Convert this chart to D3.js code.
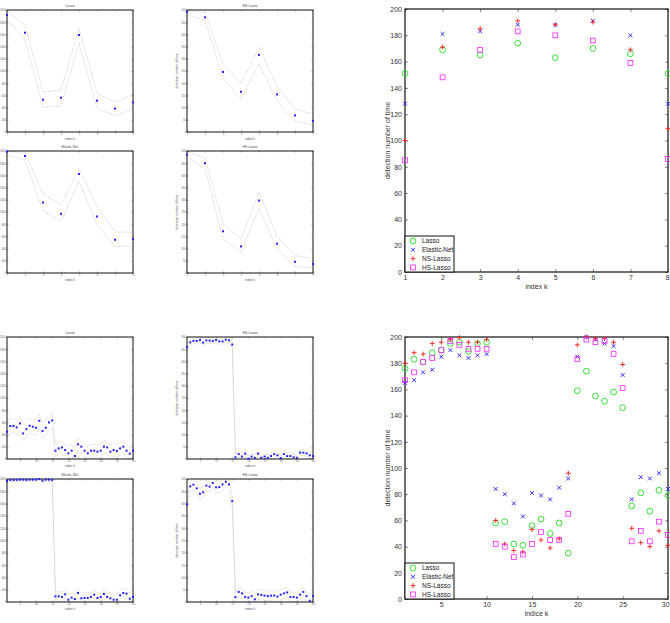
<!DOCTYPE html>
<html><head><meta charset="utf-8">
<script src="https://cdn.jsdelivr.net/npm/d3@7/dist/d3.min.js"></script>
<style>
html,body{margin:0;padding:0;background:#fff;}
svg{display:block;font-family:"Liberation Sans",Arial,sans-serif;}
</style></head>
<body>
<svg id="chart" width="670" height="623"></svg>
<script>
// ---------------- DATA ----------------
const k8 = [1,2,3,4,5,6,7,8];
const k40 = [1,2,3,4,5,6,7,8,9,10,11,12,13,14,15,16,17,18,19,20,21,22,23,24,25,26,27,28,29,30,31,32,33,34,35,36,37,38,39,40];
const k30 = [1,2,3,4,5,6,7,8,9,10,11,12,13,14,15,16,17,18,19,20,21,22,23,24,25,26,27,28,29,30];

const yTicks2000 = [0,200,400,600,800,1000,1200,1400,1600,1800,2000];
const yTicks500 = [0,50,100,150,200,250,300,350,400,450,500];
const xTicks8 = [1,2,3,4,5,6,7,8];
const xTicks40 = [5,10,15,20,25,30,35,40];
const yTicksBig = [0,20,40,60,80,100,120,140,160,180,200];
const xTicksBig8 = [1,2,3,4,5,6,7,8];
const xTicksBig30 = [5,10,15,20,25,30];

// small panels, group 1 (8 indices)
const lasso8 = [1918,1628,530,563,1590,514,383,486];
const lasso8Up = [1989,1754,656,689,1699,634,486,617];
const lasso8Lo = [1836,1519,404,426,1454,388,268,372];
const ns8 = [493,470,246,165,316,154,68,46];
const ns8Up = [500,489,281,199,346,189,94,74];
const ns8Lo = [479,459,220,135,281,128,44,30];
const enet8 = [1989,1918,1155,970,1624,926,545,556];
const enet8Up = [2000,1962,1297,1117,1717,1090,670,670];
const enet8Lo = [1935,1853,1019,845,1499,790,436,436];
const hs8 = [485,450,171,109,297,120,46,37];
const hs8Up = [500,470,202,140,331,150,71,61];
const hs8Lo = [474,429,140,84,266,98,27,20];

// small panels, group 2 (40 indices)
const lasso40 = [447,540,540,518,583,420,490,545,529,512,627,458,512,600,632,136,174,190,147,93,136,49,240,202,136,93,136,136,120,136,202,190,120,147,131,174,202,136,87,136];
const lasso40Up = [560,660,650,640,700,560,610,660,640,640,740,600,640,720,760,230,270,290,250,200,240,170,330,300,240,200,240,240,230,240,300,290,230,250,240,270,300,240,190,240];
const lasso40Lo = [340,430,430,400,460,300,370,420,410,390,510,340,390,480,510,30,70,90,40,5,30,5,140,100,30,5,30,30,20,30,100,90,20,40,30,70,100,30,5,30];
const ns40 = [459,478,484,484,488,477,486,485,484,488,482,482,489,486,469,7,20,10,22,1,10,5,22,5,10,5,12,20,15,4,20,12,12,7,5,26,26,23,15,12];
const ns40Up = [472,490,496,496,500,490,498,497,496,500,494,494,500,498,482,19,32,22,34,13,22,17,34,17,22,17,24,32,27,16,32,24,24,19,17,38,38,35,27,24];
const ns40Lo = [446,466,472,472,476,465,474,473,472,476,470,470,477,474,456,1,8,1,10,1,1,1,10,1,1,1,1,8,3,1,8,1,1,1,1,14,14,11,3,1];
const enet40 = [1967,1984,1984,1984,1989,1989,1984,1989,1989,1989,2000,1973,1989,1989,1984,92,92,82,125,38,71,49,147,60,65,65,82,120,65,82,130,82,60,38,38,109,147,136,54,82];
const enet40Up = [1995,2000,2000,2000,2000,2000,2000,2000,2000,2000,2000,1998,2000,2000,2000,170,170,160,200,120,150,130,225,140,145,145,160,200,145,160,210,160,140,120,120,190,225,215,135,160];
const enet40Lo = [1940,1960,1960,1960,1965,1965,1960,1965,1965,1965,1975,1948,1965,1965,1960,15,15,5,50,5,5,5,70,5,5,5,5,45,5,5,55,5,5,5,5,30,70,60,5,5];
const hs40 = [397,470,477,462,440,446,473,469,484,466,467,478,489,478,410,20,41,35,20,18,24,11,31,29,26,24,26,26,22,30,35,39,20,20,18,30,41,24,5,24];
const hs40Up = [420,492,499,484,462,468,495,491,500,488,489,500,500,500,432,40,61,55,40,38,44,31,51,49,46,44,46,46,42,50,55,59,40,40,38,50,61,44,25,44];
const hs40Lo = [375,448,455,440,418,424,451,447,462,444,445,456,467,456,388,2,21,15,2,1,4,1,11,9,6,4,6,6,2,10,15,19,2,2,1,10,21,4,1,4];

// big panel 1 (8 indices)
const bigLasso8 = [151,169,165,174,163,170,166,151];
const bigEnet8 = [128,181,183,188,188,191,180,128];
const bigNs8 = [100,171,185,191,188,190,169,109];
const bigHs8 = [85,148,169,183,180,176,159,86];

// big panel 2 (30 indices)
const bigLasso30 = [176,183,181,188,190,195,196,189,195,196,58,59,42,41,56,61,50,58,35,159,174,155,151,158,146,71,81,67,83,79];
const bigEnet30 = [165,167,173,175,185,190,186,184,186,187,84,80,73,63,81,79,76,85,92,185,200,198,195,193,171,76,93,92,96,84];
const bigNs30 = [180,188,187,195,196,198,199.5,196,196,198,60,42,37,36,53,45,39,46,96,194,200,199,199,196,179,54,43,40,52,41];
const bigHs30 = [167,173,181,184,190,197,194,191,191,191,42,40,32,34,42,51,45,45,65,183,198,196,197,187,161,44,52,44,59,49];

const legendNames = ["Lasso","Elastic-Net","NS-Lasso","HS-Lasso"];
const colors = {Lasso:"#22dd22","Elastic-Net":"#1a1aff","NS-Lasso":"#ff1a1a","HS-Lasso":"#ff22ff"};

// ---------------- DRAW ----------------
const svg = d3.select("#chart");

function smallPanel(cfg){
  const {x0,y0,w,h,title,ks,xDom,yDom,xt,yt,vals,up,lo,ylab} = cfg;
  const g = svg.append("g");
  const x = d3.scaleLinear().domain(xDom).range([x0,x0+w]);
  const y = d3.scaleLinear().domain(yDom).range([y0+h,y0]);
  const clipId = "c"+Math.round(x0)+"_"+Math.round(y0);
  g.append("clipPath").attr("id",clipId).append("rect").attr("x",x0).attr("y",y0).attr("width",w).attr("height",h);
  const ax = g.append("g").attr("transform",`translate(0,${y0+h})`)
    .call(d3.axisBottom(x).tickValues(xt).tickSize(-1.6).tickPadding(1.5).tickFormat(d3.format("d")));
  const ay = g.append("g").attr("transform",`translate(${x0},0)`)
    .call(d3.axisLeft(y).tickValues(yt).tickSize(-1.6).tickPadding(0.8).tickFormat(d3.format("d")));
  const at = g.append("g").attr("transform",`translate(0,${y0})`)
    .call(d3.axisTop(x).tickValues(xt).tickSize(-1.6).tickFormat(""));
  const ar = g.append("g").attr("transform",`translate(${x0+w},0)`)
    .call(d3.axisRight(y).tickValues(yt).tickSize(-1.6).tickFormat(""));
  [ax,ay,at,ar].forEach(a=>{
    a.select(".domain").remove();
    a.selectAll("line").attr("stroke","#555").attr("stroke-width",0.4);
    a.selectAll("text").attr("font-size",2.8).attr("fill","#666").attr("font-family","Liberation Sans, Arial, sans-serif");
  });
  const line = d3.line().x((d,i)=>x(ks[i])).y(d=>y(d));
  [up,lo].forEach(arr=>{
    g.append("path").attr("d",line(arr)).attr("fill","none").attr("stroke","#aaa")
      .attr("stroke-width",0.5).attr("stroke-dasharray","1,0.8").attr("clip-path",`url(#${clipId})`);
  });
  g.append("rect").attr("x",x0).attr("y",y0).attr("width",w).attr("height",h)
    .attr("fill","none").attr("stroke","#111").attr("stroke-width",1);
  g.selectAll("rect.pt").data(vals).join("rect").attr("class","pt")
    .attr("x",(d,i)=>x(ks[i])-1).attr("y",d=>y(d)-1).attr("width",2).attr("height",2)
    .attr("fill","#2222ff");
  g.append("text").attr("x",x0+w/2).attr("y",y0-3).attr("text-anchor","middle")
    .attr("font-size",3.4).attr("fill","#444").text(title);
  g.append("text").attr("x",x0+w/2).attr("y",y0+h+8).attr("text-anchor","middle")
    .attr("font-size",3.2).attr("fill","#555").text("index k");
  if(ylab){
    g.append("text").attr("transform",`translate(${x0-9},${y0+h/2}) rotate(-90)`).attr("text-anchor","middle")
      .attr("font-size",3.2).attr("fill","#555").text("detection number of time");
  }
}

// group 1
smallPanel({x0:7,y0:10,w:126,h:122,title:"Lasso",ks:k8,xDom:[1,8],yDom:[0,2000],xt:xTicks8,yt:yTicks2000,vals:lasso8,up:lasso8Up,lo:lasso8Lo,ylab:false});
smallPanel({x0:187,y0:10,w:126,h:122,title:"NS-Lasso",ks:k8,xDom:[1,8],yDom:[0,500],xt:xTicks8,yt:yTicks500,vals:ns8,up:ns8Up,lo:ns8Lo,ylab:true});
smallPanel({x0:7,y0:151,w:126,h:122,title:"Elastic-Net",ks:k8,xDom:[1,8],yDom:[0,2000],xt:xTicks8,yt:yTicks2000,vals:enet8,up:enet8Up,lo:enet8Lo,ylab:false});
smallPanel({x0:187,y0:151,w:126,h:122,title:"HS-Lasso",ks:k8,xDom:[1,8],yDom:[0,500],xt:xTicks8,yt:yTicks500,vals:hs8,up:hs8Up,lo:hs8Lo,ylab:true});
// group 2
smallPanel({x0:7,y0:337,w:126,h:122,title:"Lasso",ks:k40,xDom:[1,40],yDom:[0,2000],xt:xTicks40,yt:yTicks2000,vals:lasso40,up:lasso40Up,lo:lasso40Lo,ylab:false});
smallPanel({x0:187,y0:337,w:126,h:122,title:"NS-Lasso",ks:k40,xDom:[1,40],yDom:[0,500],xt:xTicks40,yt:yTicks500,vals:ns40,up:ns40Up,lo:ns40Lo,ylab:true});
smallPanel({x0:7,y0:479,w:126,h:123,title:"Elastic-Net",ks:k40,xDom:[1,40],yDom:[0,2000],xt:xTicks40,yt:yTicks2000,vals:enet40,up:enet40Up,lo:enet40Lo,ylab:false});
smallPanel({x0:187,y0:479,w:126,h:123,title:"HS-Lasso",ks:k40,xDom:[1,40],yDom:[0,500],xt:xTicks40,yt:yTicks500,vals:hs40,up:hs40Up,lo:hs40Lo,ylab:true});

function marker(g,name,cx,cy){
  const c = colors[name];
  if(name==="Lasso"){
    g.append("circle").attr("cx",cx).attr("cy",cy).attr("r",2.9).attr("fill","none").attr("stroke",c).attr("stroke-width",0.9);
  } else if(name==="Elastic-Net"){
    const s=1.9;
    g.append("path").attr("d",`M${cx-s},${cy-s}L${cx+s},${cy+s}M${cx-s},${cy+s}L${cx+s},${cy-s}`).attr("stroke",c).attr("stroke-width",0.9).attr("fill","none");
  } else if(name==="NS-Lasso"){
    const s=2.4;
    g.append("path").attr("d",`M${cx-s},${cy}L${cx+s},${cy}M${cx},${cy-s}L${cx},${cy+s}`).attr("stroke",c).attr("stroke-width",0.9).attr("fill","none");
  } else {
    g.append("rect").attr("x",cx-2.4).attr("y",cy-2.4).attr("width",4.8).attr("height",4.8).attr("fill","none").attr("stroke",c).attr("stroke-width",0.8);
  }
}

function bigPanel(cfg){
  const {x0,y0,w,h,ks,xDom,xt,series,xlab,legendY} = cfg;
  const g = svg.append("g");
  const x = d3.scaleLinear().domain(xDom).range([x0,x0+w]);
  const y = d3.scaleLinear().domain([0,200]).range([y0+h,y0]);
  const ax = g.append("g").attr("transform",`translate(0,${y0+h})`)
    .call(d3.axisBottom(x).tickValues(xt).tickSize(-3).tickPadding(3).tickFormat(d3.format("d")));
  const ay = g.append("g").attr("transform",`translate(${x0},0)`)
    .call(d3.axisLeft(y).tickValues(yTicksBig).tickSize(-3).tickPadding(3).tickFormat(d3.format("d")));
  const at = g.append("g").attr("transform",`translate(0,${y0})`)
    .call(d3.axisTop(x).tickValues(xt).tickSize(-3).tickFormat(""));
  const ar = g.append("g").attr("transform",`translate(${x0+w},0)`)
    .call(d3.axisRight(y).tickValues(yTicksBig).tickSize(-3).tickFormat(""));
  [ax,ay,at,ar].forEach(a=>{
    a.select(".domain").remove();
    a.selectAll("line").attr("stroke","#333").attr("stroke-width",0.6);
    a.selectAll("text").attr("font-size",7).attr("fill","#333").attr("font-family","Liberation Sans, Arial, sans-serif");
  });
  // keep x tick labels inside the canvas
  ax.selectAll("text").each(function(){
    const b = this.getBBox();
    const ctm = this.getCTM();
    const right = ctm.e + b.x + b.width;
    if(right > 670){ d3.select(this).attr("dx", (670 - right - 0.3)); }
  });
  g.append("rect").attr("x",x0).attr("y",y0).attr("width",w).attr("height",h)
    .attr("fill","none").attr("stroke","#111").attr("stroke-width",1.2);
  g.append("text").attr("x",x0+w/2).attr("y",y0+h+17).attr("text-anchor","middle")
    .attr("font-size",7).attr("fill","#333").text(xlab);
  g.append("text").attr("transform",`translate(${x0-15},${y0+h/2}) rotate(-90)`).attr("text-anchor","middle")
    .attr("font-size",7).attr("fill","#333").text("detection number of time");
  series.forEach(s=>{
    s.vals.forEach((v,i)=>marker(g,s.name,x(ks[i]),y(v)));
  });
  const lg = g.append("g");
  lg.append("rect").attr("x",x0).attr("y",legendY).attr("width",49).attr("height",y0+h-legendY)
    .attr("fill","#fff").attr("stroke","#111").attr("stroke-width",1);
  legendNames.forEach((n,i)=>{
    const ly = legendY+5+i*8.8;
    marker(lg,n,x0+8,ly);
    lg.append("text").attr("x",x0+17).attr("y",ly+2.3).attr("font-size",6.5).attr("fill","#222").text(n);
  });
}

bigPanel({x0:405,y0:9,w:263,h:263,ks:k8,xDom:[1,8],xt:xTicksBig8,xlab:"index k",legendY:236,
  series:[{name:"Lasso",vals:bigLasso8},{name:"Elastic-Net",vals:bigEnet8},{name:"NS-Lasso",vals:bigNs8},{name:"HS-Lasso",vals:bigHs8}]});
bigPanel({x0:405,y0:337,w:263,h:262,ks:k30,xDom:[1,30],xt:xTicksBig30,xlab:"indice k",legendY:563,
  series:[{name:"Lasso",vals:bigLasso30},{name:"Elastic-Net",vals:bigEnet30},{name:"NS-Lasso",vals:bigNs30},{name:"HS-Lasso",vals:bigHs30}]});
</script>
</body></html>
